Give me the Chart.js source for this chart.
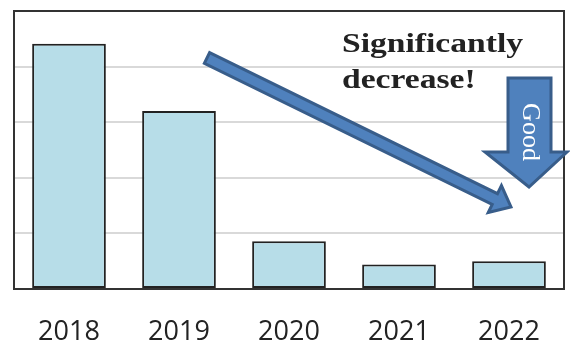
<!DOCTYPE html>
<html>
<head>
<meta charset="utf-8">
<script src="https://cdn.jsdelivr.net/npm/chart.js@4"></script>
<style>
  html, body { margin: 0; padding: 0; background: #fff; }
  #wrap { width: 570px; height: 345px; }
</style>
</head>
<body>
<div id="wrap"><canvas id="myChart"></canvas></div>
<script>
const years = ['2018', '2019', '2020', '2021', '2022'];
const values = [4.41, 3.2, 0.86, 0.44, 0.5];
const yTicks = [0, 1, 2, 3, 4, 5];
const noteLines = ['Significantly', 'decrease!'];
const goodLabel = 'Good';

// frame + callouts drawn on top of the chart
const decorations = {
  id: 'decorations',
  beforeDatasetsDraw(chart) {
    const { ctx, chartArea: a } = chart;
    ctx.save();
    ctx.strokeStyle = '#333';
    ctx.lineWidth = 2;
    ctx.strokeRect(a.left, a.top, a.right - a.left, a.bottom - a.top);
    ctx.restore();
  },
  afterDraw(chart) {
    const { ctx } = chart;
    ctx.save();

    // big diagonal arrow
    const x0 = 207, y0 = 58, x1 = 511, y1 = 207;
    const ang = Math.atan2(y1 - y0, x1 - x0);
    const headLen = 18, headW = 15, shaft = 6;
    ctx.translate(x0, y0);
    ctx.rotate(ang);
    const len = Math.hypot(x1 - x0, y1 - y0);
    ctx.beginPath();
    ctx.moveTo(0, -shaft);
    ctx.lineTo(len - headLen, -shaft);
    ctx.lineTo(len - headLen, -headW);
    ctx.lineTo(len, 0);
    ctx.lineTo(len - headLen, headW);
    ctx.lineTo(len - headLen, shaft);
    ctx.lineTo(0, shaft);
    ctx.closePath();
    ctx.fillStyle = '#4f81bd';
    ctx.fill();
    ctx.strokeStyle = '#385d8a';
    ctx.lineWidth = 3;
    ctx.lineJoin = 'miter';
    ctx.stroke();
    ctx.setTransform(1, 0, 0, 1, 0, 0);

    // "Good" down arrow
    ctx.beginPath();
    ctx.moveTo(508, 78);
    ctx.lineTo(551, 78);
    ctx.lineTo(551, 152);
    ctx.lineTo(567, 152);
    ctx.lineTo(529, 187);
    ctx.lineTo(485, 152);
    ctx.lineTo(508, 152);
    ctx.closePath();
    ctx.fillStyle = '#4f81bd';
    ctx.fill();
    ctx.strokeStyle = '#385d8a';
    ctx.lineWidth = 3;
    ctx.stroke();

    ctx.translate(530, 132);
    ctx.rotate(Math.PI / 2);
    ctx.fillStyle = '#fff';
    ctx.font = '26px "Liberation Serif"';
    ctx.textAlign = 'center';
    ctx.textBaseline = 'middle';
    ctx.fillText(goodLabel, 0, 0);
    ctx.setTransform(1, 0, 0, 1, 0, 0);

    // text note (slightly stretched like the original)
    ctx.fillStyle = '#222';
    ctx.font = 'bold 28px "Liberation Serif"';
    ctx.textAlign = 'left';
    ctx.textBaseline = 'alphabetic';
    ctx.translate(342, 0);
    ctx.scale(1.2, 1);
    ctx.fillText(noteLines[0], 0, 52);
    ctx.fillText(noteLines[1], 0, 88);
    ctx.restore();
  }
};

const data = {
  labels: years,
  datasets: [{
    data: values,
    backgroundColor: '#b7dde8',
    borderColor: '#222',
    borderWidth: 2,
    borderSkipped: false,
    barPercentage: 0.67,
    categoryPercentage: 1
  }]
};

const config = {
  type: 'bar',
  data: data,
  options: {
    responsive: true,
    maintainAspectRatio: false,
    animation: false,
    layout: { padding: { left: 14, top: 11, right: 6, bottom: 0 } },
    plugins: {
      legend: { display: false },
      tooltip: { enabled: false }
    },
    scales: {
      x: {
        afterFit(axis) { axis.height = 56; },
        grid: { display: false, drawTicks: false },
        border: { color: '#333', width: 2 },
        ticks: {
          color: '#222',
          padding: 27,
          font: { family: '"Open Sans"', size: 27 }
        }
      },
      y: {
        min: yTicks[0],
        max: yTicks[yTicks.length - 1],
        afterBuildTicks(axis) { axis.ticks = yTicks.map(v => ({ value: v })); },
        ticks: { display: false },
        grid: { color: '#d9d9d9', lineWidth: 2, drawTicks: false },
        border: { color: '#333', width: 2 }
      }
    }
  },
  plugins: [decorations]
};

var myChart = new Chart(document.getElementById('myChart'), config);
</script>
</body>
</html>
